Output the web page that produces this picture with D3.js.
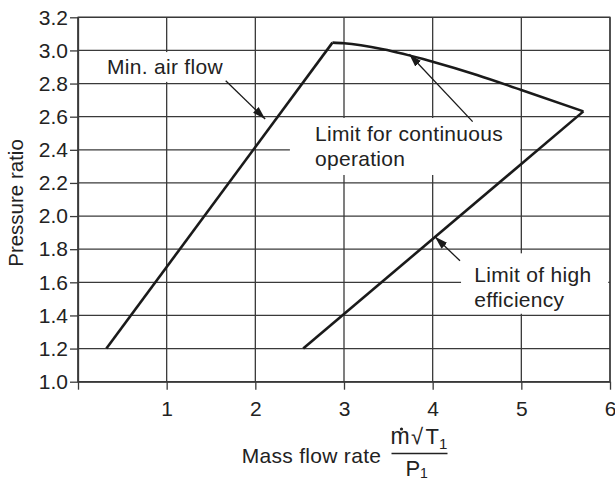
<!DOCTYPE html>
<html><head><meta charset="utf-8">
<script src="https://cdn.jsdelivr.net/npm/d3@7"></script>
<style>
body{margin:0;background:#fff}
text{font-family:"Liberation Sans",Arial,Helvetica,sans-serif;fill:#222}
</style>
</head><body>
<svg id="chart" width="615" height="479"></svg>
<script>
// ---- data ----
const xTicks = [0, 1, 2, 3, 4, 5, 6];
const xTickLabels = ["", "1", "2", "3", "4", "5", "6"];
const yTicks = [1.0, 1.2, 1.4, 1.6, 1.8, 2.0, 2.2, 2.4, 2.6, 2.8, 3.0, 3.2];

const minAirX = [0.32, 2.87];
const minAirY = [1.20, 3.047];

const contX = [2.87, 3.00, 3.44, 4.00, 4.50, 5.00, 5.70];
const contY = [3.047, 3.043, 3.007, 2.932, 2.852, 2.761, 2.632];

const effX = [2.54, 5.70];
const effY = [1.20, 2.632];

// annotation labels: text lines, anchor (data units)
const labelText = [["Min. air flow"], ["Limit for continuous", "operation"], ["Limit of high", "efficiency"]];
const labelX = [0.327, 2.673, 4.469];
const labelY = [2.858, 2.453, 1.603];
// white masks behind labels (data units): x0, x1, yTop, yBottom
const maskX0 = [0.25, 2.39, 4.32];
const maskX1 = [1.78, 4.985, 5.98];
const maskYT = [2.99, 2.592, 1.775];
const maskYB = [2.81, 2.248, 1.41];
// arrows: tail -> tip (data units)
const arrowX1 = [1.666, 4.451, 4.308];
const arrowY1 = [2.817, 2.570, 1.730];
const arrowX2 = [2.111, 3.736, 4.026];
const arrowY2 = [2.586, 2.977, 1.875];

// ---- drawing ----
const svg = d3.select("#chart");
const x = d3.scaleLinear().domain([0, 6]).range([78, 610]);
const y = d3.scaleLinear().domain([1.0, 3.2]).range([381.7, 17.3]);
const gridCol = "#3a3a3a";

// grid
const grid = svg.append("g");
grid.selectAll("line.v").data(xTicks).join("line")
  .attr("x1", d => x(d)).attr("x2", d => x(d))
  .attr("y1", y(1.0)).attr("y2", y(3.2))
  .attr("stroke", gridCol).attr("stroke-width", 1.3);
grid.selectAll("line.h").data(yTicks).join("line")
  .attr("y1", d => y(d)).attr("y2", d => y(d))
  .attr("x1", x(0)).attr("x2", x(6))
  .attr("stroke", gridCol).attr("stroke-width", 1.3);

// masks
svg.append("g").selectAll("rect").data(maskX0).join("rect")
  .attr("x", (d, i) => x(d)).attr("width", (d, i) => x(maskX1[i]) - x(d))
  .attr("y", (d, i) => y(maskYT[i])).attr("height", (d, i) => y(maskYB[i]) - y(maskYT[i]))
  .attr("fill", "#fff");

// frame on top of masks
svg.append("rect").attr("x", x(0)).attr("y", y(3.2))
  .attr("width", x(6) - x(0)).attr("height", y(1.0) - y(3.2))
  .attr("fill", "none").attr("stroke", gridCol).attr("stroke-width", 1.3);

// axes
const fs = 21;
const yAxis = svg.append("g").attr("transform", `translate(${x(0)},0)`)
  .call(d3.axisLeft(y).tickValues(yTicks).tickFormat(d3.format(".1f")).tickSize(8).tickSizeOuter(0).tickPadding(2));
const xAxis = svg.append("g").attr("transform", `translate(0,${y(1.0)})`)
  .call(d3.axisBottom(x).tickValues(xTicks).tickFormat((d, i) => xTickLabels[i]).tickSize(8).tickSizeOuter(0).tickPadding(11));
[yAxis, xAxis].forEach(a => {
  a.select(".domain").attr("stroke", gridCol).attr("stroke-width", 1.3);
  a.selectAll(".tick line").attr("stroke", gridCol).attr("stroke-width", 1.3);
  a.selectAll(".tick text").attr("font-size", fs).attr("fill", "#222")
    .style("font-family", '"Liberation Sans",Arial,sans-serif');
});

// curves
const line = d3.line().x(d => x(d[0])).y(d => y(d[1]));
const curveLine = d3.line().x(d => x(d[0])).y(d => y(d[1])).curve(d3.curveMonotoneX);
const curveCol = "#1a1a1a";
svg.append("path").datum(minAirX.map((v, i) => [v, minAirY[i]])).attr("d", line)
  .attr("fill", "none").attr("stroke", curveCol).attr("stroke-width", 2.6);
svg.append("path").datum(contX.map((v, i) => [v, contY[i]])).attr("d", curveLine)
  .attr("fill", "none").attr("stroke", curveCol).attr("stroke-width", 2.6);
svg.append("path").datum(effX.map((v, i) => [v, effY[i]])).attr("d", line)
  .attr("fill", "none").attr("stroke", curveCol).attr("stroke-width", 2.6);

// arrows
svg.append("defs").append("marker").attr("id", "ah")
  .attr("markerUnits", "userSpaceOnUse").attr("markerWidth", 14).attr("markerHeight", 10)
  .attr("viewBox", "0 -5 14 10").attr("refX", 13).attr("refY", 0).attr("orient", "auto")
  .append("path").attr("d", "M0,-4L13,0L0,4Z").attr("fill", "#1a1a1a");
svg.append("g").selectAll("line").data(arrowX1).join("line")
  .attr("x1", d => x(d)).attr("y1", (d, i) => y(arrowY1[i]))
  .attr("x2", (d, i) => x(arrowX2[i])).attr("y2", (d, i) => y(arrowY2[i]))
  .attr("stroke", "#1a1a1a").attr("stroke-width", 1.3).attr("marker-end", "url(#ah)");

// labels
const lab = svg.append("g");
labelText.forEach((lines, i) => {
  const t = lab.append("text").attr("x", x(labelX[i])).attr("y", y(labelY[i]))
    .attr("font-size", fs).attr("letter-spacing", 0.3);
  lines.forEach((s, j) => {
    t.append("tspan").attr("x", x(labelX[i])).attr("dy", j === 0 ? 0 : 25).text(s);
  });
});

// axis titles
svg.append("text").attr("transform", "translate(23,203) rotate(-90)")
  .attr("text-anchor", "middle").attr("font-size", 20.5).text("Pressure ratio");

svg.append("text").attr("x", 241.7).attr("y", 462.5).attr("font-size", fs).attr("letter-spacing", 0.3)
  .text("Mass flow rate");
// fraction  m-dot sqrt(T1) / P1
const num = svg.append("text").attr("y", 444.3).attr("font-size", 22);
num.append("tspan").attr("x", 390.5).attr("font-size", 23).attr("letter-spacing", 1).text("m");
num.append("tspan").attr("x", 411).text("\u221A");
num.append("tspan").attr("x", 425.5).text("T");
num.append("tspan").attr("x", 439).attr("y", 448.5).attr("font-size", 15).text("1");
svg.append("circle").attr("cx", 401.5).attr("cy", 429).attr("r", 1.6).attr("fill", "#222");
svg.append("line").attr("x1", 391.5).attr("x2", 447.5).attr("y1", 453.5).attr("y2", 453.5)
  .attr("stroke", "#222").attr("stroke-width", 1.4);
const den = svg.append("text").attr("y", 475.5).attr("font-size", 22);
den.append("tspan").attr("x", 405.5).text("P");
den.append("tspan").attr("x", 420).attr("y", 477.5).attr("font-size", 14).text("1");
</script>
</body></html>
